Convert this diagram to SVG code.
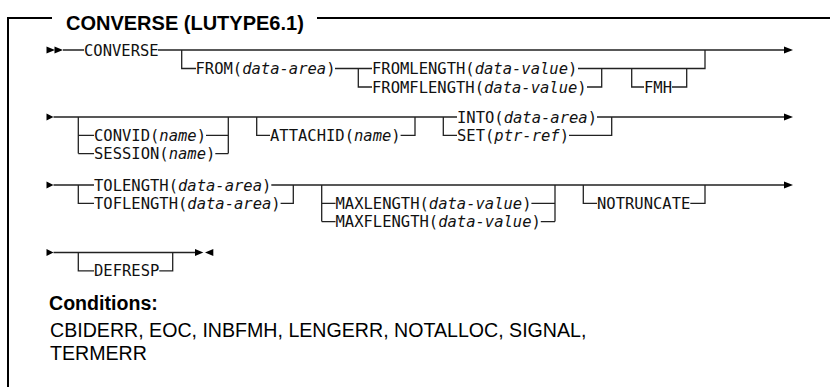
<svg xmlns="http://www.w3.org/2000/svg" width="830" height="387" viewBox="0 0 830 387">
<style>
.bg{fill:#fff}
.frame{fill:none;stroke:#000;stroke-width:2}
.ln{fill:none;stroke:#222;stroke-width:1.3}
.ah{fill:#000}
.kw{font-family:"DejaVu Sans Mono",monospace;font-size:15.5px;fill:#111}
.it{font-style:italic}
.title{font-family:"Liberation Sans",Arial,sans-serif;font-weight:bold;font-size:20px;fill:#000}
.cond{font-family:"Liberation Sans",Arial,sans-serif;font-size:19.6px;fill:#000}
.condh{font-family:"Liberation Sans",Arial,sans-serif;font-weight:bold;font-size:19.6px;fill:#000}
</style>
<rect class="bg" x="0" y="0" width="830" height="387"/>
<g id="frame">
<path class="frame" d="M8,387 V18 H52 M317,18 H830"/>
<text class="title" x="66" y="30">CONVERSE (LUTYPE6.1)</text>
</g>
<g id="connectors">
<!-- row 1 -->
<polygon class="ah" points="46.5,46.5 55,50 46.5,53.5"/>
<polygon class="ah" points="54.5,46.5 63,50 54.5,53.5"/>
<path class="ln" d="M63,50 H84 M158,50 H784"/>
<polygon class="ah" points="784,46.5 793,50 784,53.5"/>
<path class="ln" d="M181.7,50 V68.5 H196"/>
<path class="ln" d="M335,68.5 H372 M358.3,68.5 V87 H372"/>
<path class="ln" d="M578,68.5 H705 V50"/>
<path class="ln" d="M587,87 H601.7 V68.5"/>
<path class="ln" d="M631.7,68.5 V87 H644 M672,87 H686.7 V68.5"/>
<!-- row 2 -->
<polygon class="ah" points="46.5,113.5 53.5,117 46.5,120.5"/>
<path class="ln" d="M53.5,117 H457 M597,117 H784"/>
<polygon class="ah" points="784,113.5 793,117 784,120.5"/>
<path class="ln" d="M78.3,117 V153.6 M78.3,135.3 H94 M78.3,153.6 H94"/>
<path class="ln" d="M206,135.3 H228.3 M215.3,153.6 H228.3 M228.3,117 V153.6"/>
<path class="ln" d="M256.7,117 V135.3 H270 M400.6,135.3 H415 V117"/>
<path class="ln" d="M443.3,117 V135.3 H457 M569,135.3 H611.7 V117"/>
<!-- row 3 -->
<polygon class="ah" points="46.5,181.5 53.5,185 46.5,188.5"/>
<path class="ln" d="M53.5,185 H94 M271.3,185 H784"/>
<polygon class="ah" points="784,181.5 793,185 784,188.5"/>
<path class="ln" d="M78.3,185 V203.3 H94 M280.6,203.3 H293.3 V185"/>
<path class="ln" d="M321.7,185 V221.6 M321.7,203.3 H335.5 M321.7,221.6 H335.5"/>
<path class="ln" d="M531.4,203.3 H555 M540.8,221.6 H555 M555,185 V221.6"/>
<path class="ln" d="M583.3,185 V203.3 H597 M690.3,203.3 H705 V185"/>
<!-- row 4 -->
<polygon class="ah" points="46.5,249 53.5,252.5 46.5,256"/>
<path class="ln" d="M53.5,252.5 H195"/>
<path class="ln" d="M78.3,252.5 V270.8 H94 M159.3,270.8 H172.7 V252.5"/>
<polygon class="ah" points="195,249 203.3,252.5 195,256"/>
<polygon class="ah" points="213.3,249 205,252.5 213.3,256"/>
</g>
<g id="n-converse"><text class="kw" x="84" y="55.5">CONVERSE</text></g>
<g id="n-from"><text class="kw" x="195.5" y="74">FROM(<tspan class="it">data-area</tspan>)</text></g>
<g id="n-fromlength"><text class="kw" x="372" y="74">FROMLENGTH(<tspan class="it">data-value</tspan>)</text></g>
<g id="n-fromflength"><text class="kw" x="372" y="92.5">FROMFLENGTH(<tspan class="it">data-value</tspan>)</text></g>
<g id="n-fmh"><text class="kw" x="644" y="92.5">FMH</text></g>
<g id="n-convid"><text class="kw" x="94" y="140.8">CONVID(<tspan class="it">name</tspan>)</text></g>
<g id="n-session"><text class="kw" x="94" y="159.1">SESSION(<tspan class="it">name</tspan>)</text></g>
<g id="n-attachid"><text class="kw" x="270" y="140.8">ATTACHID(<tspan class="it">name</tspan>)</text></g>
<g id="n-into"><text class="kw" x="457" y="122.5">INTO(<tspan class="it">data-area</tspan>)</text></g>
<g id="n-set"><text class="kw" x="457" y="140.8">SET(<tspan class="it">ptr-ref</tspan>)</text></g>
<g id="n-tolength"><text class="kw" x="94" y="190.5">TOLENGTH(<tspan class="it">data-area</tspan>)</text></g>
<g id="n-toflength"><text class="kw" x="94" y="208.8">TOFLENGTH(<tspan class="it">data-area</tspan>)</text></g>
<g id="n-maxlength"><text class="kw" x="335.5" y="208.8">MAXLENGTH(<tspan class="it">data-value</tspan>)</text></g>
<g id="n-maxflength"><text class="kw" x="335.5" y="227.1">MAXFLENGTH(<tspan class="it">data-value</tspan>)</text></g>
<g id="n-notruncate"><text class="kw" x="597" y="208.8">NOTRUNCATE</text></g>
<g id="n-defresp"><text class="kw" x="94" y="276.3">DEFRESP</text></g>
<g id="conditions">
<text class="condh" x="49" y="310">Conditions:</text>
<text class="cond" x="50" y="337">CBIDERR, EOC, INBFMH, LENGERR, NOTALLOC, SIGNAL,</text>
<text class="cond" x="50" y="360">TERMERR</text>
</g>
</svg>
